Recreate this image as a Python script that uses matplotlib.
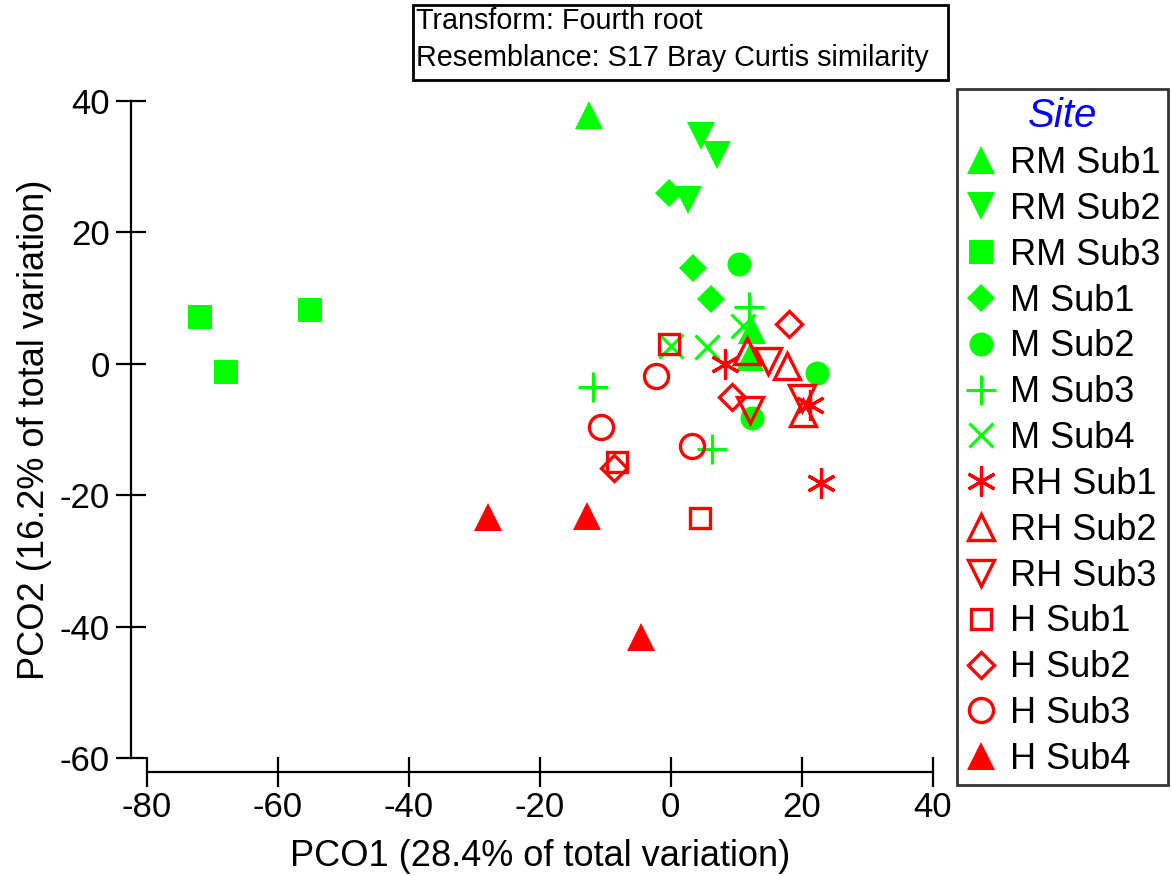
import matplotlib.pyplot as plt
from matplotlib.patches import Rectangle

# Data
labels = ['RM Sub1', 'RM Sub2', 'RM Sub3', 'M Sub1', 'M Sub2', 'M Sub3', 'M Sub4',
          'RH Sub1', 'RH Sub2', 'RH Sub3', 'H Sub1', 'H Sub2', 'H Sub3', 'H Sub4']
x_vals = [
    [-12.5, 12.4, 12.1],
    [4.6, 7.0, 2.6],
    [-71.8, -67.9, -55.1],
    [-0.2, 3.4, 6.1],
    [10.5, 22.4, 12.4],
    [11.9, -11.8, 6.3],
    [0.1, 5.5, 11.1],
    [8.3, 21.3, 23.0],
    [11.6, 17.7, 20.2],
    [14.9, 12.1, 20.0],
    [-0.2, -8.2, 4.5],
    [18.0, 9.3, -8.7],
    [-2.2, -10.7, 3.2],
    [-27.9, -12.8, -4.5],
]
y_vals = [
    [37.8, 5.2, 1.1],
    [34.6, 31.8, 25.0],
    [7.1, -1.2, 8.2],
    [26.0, 14.6, 9.9],
    [15.2, -1.4, -8.3],
    [8.6, -3.5, -13.0],
    [2.7, 2.6, 5.7],
    [-0.1, -6.2, -18.2],
    [1.9, -0.4, -7.5],
    [0.4, -7.1, -5.2],
    [3.0, -14.9, -23.4],
    [6.1, -5.0, -15.9],
    [-1.9, -9.6, -12.5],
    [-23.3, -23.1, -41.6],
]

# Styles
GREEN = '#00ff00'
RED = '#ff0000'
asterisk = (6, 2, 0)
markers = ['^', 'v', 's', 'D', 'o', '+', 'x', asterisk, '^', 'v', 's', 'D', 'o', '^']
colors = [GREEN] * 7 + [RED] * 7
filled = [True, True, True, True, True, False, False, False, False, False, False, False, False, True]
sizes = [20, 20, 17.3, 14.3, 17.3, 21.6, 17, 21.6, 19.4, 19.4, 14.4, 13.2, 17.3, 20]

plt.rcParams['font.family'] = ['Liberation Sans', 'DejaVu Sans']
plt.rcParams['axes.unicode_minus'] = False

fig = plt.figure(figsize=(11.71, 8.76), dpi=100)
ax = fig.add_axes([0.1253, 0.1347, 0.6712, 0.75])

for i in range(len(labels)):
    m = markers[i]
    if filled[i]:
        ax.plot(x_vals[i], y_vals[i], linestyle='none', marker=m, markersize=sizes[i],
                color=colors[i], markeredgewidth=0, label=labels[i], clip_on=False)
    elif m in ('+', 'x') or m == asterisk:
        ax.plot(x_vals[i], y_vals[i], linestyle='none', marker=m, markersize=sizes[i],
                color=colors[i], markeredgewidth=2.3, label=labels[i], clip_on=False)
    else:
        ax.plot(x_vals[i], y_vals[i], linestyle='none', marker=m, markersize=sizes[i],
                markerfacecolor='none', markeredgecolor=colors[i], markeredgewidth=2.4,
                label=labels[i], clip_on=False)

ax.set_xlim(-80, 40)
ax.set_ylim(-60, 40)
ax.set_xticks([-80, -60, -40, -20, 0, 20, 40])
ax.set_yticks([-60, -40, -20, 0, 20, 40])
ax.spines['top'].set_visible(False)
ax.spines['right'].set_visible(False)
ax.spines['left'].set_position(('outward', 11.3))
ax.spines['bottom'].set_position(('outward', 9.9))
ax.spines['left'].set_linewidth(1.6)
ax.spines['bottom'].set_linewidth(1.6)
ax.tick_params(direction='inout', length=21, width=1.6, labelsize=25)
ax.tick_params(axis='y', pad=5)
ax.tick_params(axis='x', pad=3)
ax.set_xlabel('PCO1 (28.4% of total variation)', fontsize=26, labelpad=11)
ax.set_ylabel('PCO2 (16.2% of total variation)', fontsize=26, labelpad=5)

top = 1 - 89.3 / 876
leg = fig.legend(loc='upper left', bbox_to_anchor=(956.7 / 1171, top - 0.1, 211.3 / 1171, 0.1),
                 mode='expand', borderaxespad=0, fontsize=26, title='Site',
                 handlelength=0.9, handletextpad=0.35, borderpad=0.22, labelspacing=0.30,
                 fancybox=False, frameon=True, edgecolor='black', numpoints=1)
leg.get_frame().set_linewidth(2)
leg.get_title().set_fontsize(29)
leg.get_title().set_color('#0000ff')
leg.get_title().set_style('italic')

# Info box
fig.patches.append(Rectangle((412.7 / 1171, 1 - 80 / 876), 535.6 / 1171, 75 / 876,
                             transform=fig.transFigure, fill=False, edgecolor='black', linewidth=2))
fig.text(416 / 1171, 1 - 21 / 876, 'Transform: Fourth root', fontsize=20.7, va='center', ha='left')
fig.text(416 / 1171, 1 - 58 / 876, 'Resemblance: S17 Bray Curtis similarity', fontsize=20.7,
         va='center', ha='left')

fig.savefig('out.png', dpi=100)
